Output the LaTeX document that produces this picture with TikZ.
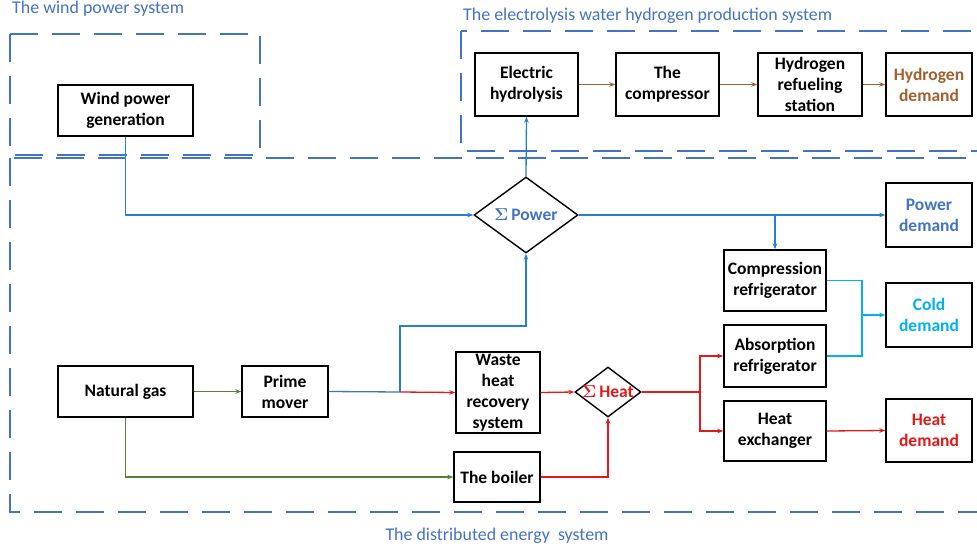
\documentclass[tikz,border=0pt]{standalone}
\usepackage{fontspec}
\setmainfont{Carlito}
\usetikzlibrary{shapes.geometric,arrows.meta}
\definecolor{dashblue}{RGB}{68,114,196}
\definecolor{pwblue}{RGB}{40,128,205}
\definecolor{dkblue}{RGB}{68,114,196}
\definecolor{ltblue}{RGB}{0,176,240}
\definecolor{grn}{RGB}{84,130,53}
\definecolor{rd}{RGB}{225,25,25}
\definecolor{brn}{RGB}{165,95,45}
\newcommand{\boxfont}{\fontsize{17.5}{21}\selectfont\bfseries}
\tikzset{
  box/.style={draw, line width=1.4pt, align=center, font=\boxfont, inner sep=0pt},
  sumbox/.style={draw, line width=1.4pt, shape=diamond, inner sep=0pt, font=\boxfont},
  dbox/.style={draw=dashblue, line width=1.6pt, dash pattern=on 28pt off 14pt},
  flow/.style={line width=1.3pt, -{Stealth[length=6pt,width=4.5pt]}},
  line/.style={line width=1.3pt},
  ttl/.style={text=dashblue, inner sep=0pt, font=\fontsize{17.9}{22}\selectfont}
}
\begin{document}
\begin{tikzpicture}[x=1pt,y=-1pt]
\clip (0,0) rectangle (977,551);
\fill[white] (0,0) rectangle (977,551);
% system frames
\draw[dbox] (10,34) rectangle (260,155);
\draw[dbox] (461,31) rectangle (995,151);
\draw[dbox] (10,158) rectangle (995,512);
\node[ttl, anchor=west] (t1) at (12,9) {The wind power system};
\node[ttl, anchor=west] (t2) at (463,16) {The electrolysis water hydrogen production system};
\node[ttl] (t3) at (497,536) {The distributed energy\ \ system};
% nodes
\node[box, minimum width=135, minimum height=51] (wind) at (125.5,110.5) {Wind power\\generation};
\node[box, minimum width=103, minimum height=63] (eh) at (526.5,84.5) {Electric\\hydrolysis};
\node[box, minimum width=103, minimum height=63] (cmp) at (667.5,84.5) {The\\compressor};
\node[box, minimum width=104, minimum height=63] (hrs) at (810,84.5) {Hydrogen\\refueling\\station};
\node[box, minimum width=86, minimum height=63, text=brn] (hdem) at (929,84.5) {Hydrogen\\demand};
\node[sumbox, minimum width=104, minimum height=76, text=dkblue] (psum) at (526,215) {\makebox[0pt]{\boldmath$\Sigma$\,Power}};
\node[box, minimum width=86, minimum height=64, text=dkblue] (pdem) at (929,215) {Power\\demand};
\node[box, minimum width=102, minimum height=61] (comp) at (775,280.5) {Compression\\refrigerator};
\node[box, minimum width=86, minimum height=64, text=ltblue] (cdem) at (929,315) {Cold\\demand};
\node[box, minimum width=102, minimum height=62] (abs) at (775,356) {Absorption\\refrigerator};
\node[box, minimum width=102, minimum height=60] (hex) at (775,431) {Heat\\exchanger};
\node[box, minimum width=86, minimum height=63, text=rd] (hdm) at (929,430.5) {Heat\\demand};
\node[box, minimum width=135, minimum height=51] (ng) at (125.5,391.5) {Natural gas};
\node[box, minimum width=86, minimum height=51] (pm) at (285,391.5) {Prime\\mover};
\node[box, minimum width=84, minimum height=81] (whr) at (498,392.5) {Waste\\heat\\recovery\\system};
\node[sumbox, minimum width=66, minimum height=50, text=rd] (hsum) at (608,392) {\makebox[0pt]{\boldmath$\Sigma$\,Heat}};
\node[box, minimum width=86, minimum height=50] (boil) at (497,477) {The boiler};
% junctions
\coordinate (j1) at (400,392);
\coordinate (j2) at (400,326);
\coordinate (j3) at (700,392);
\coordinate (j4) at (862,315);
% power flows
\draw[flow, pwblue] (wind.south) |- (psum.west);
\draw[flow, pwblue] (psum.north) -- (eh.south);
\draw[flow, pwblue] (psum.east) -- (pdem.west);
\draw[flow, pwblue] (psum.east) -| (comp.north);
\draw[line, dkblue] (pm.east) -- (j1);
\draw[flow, pwblue] (j1) -- (j2) -| (psum.south);
% hydrogen
\draw[flow, brn] (eh) -- (cmp);
\draw[flow, brn] (cmp) -- (hrs);
\draw[flow, brn] (hrs) -- (hdem);
% gas
\draw[flow, grn] (ng.east) -- (pm.west);
\draw[flow, grn] (ng.south) |- (boil.west);
% heat
\draw[flow, rd] (j1) -- (whr.west);
\draw[flow, rd] (whr.east) -- (hsum.west);
\draw[flow, rd] (boil.east) -| (hsum.south);
\draw[line, rd] (hsum.east) -- (j3);
\draw[flow, rd] (j3) |- (abs.west);
\draw[flow, rd] (j3) |- (hex.west);
\draw[flow, rd] (hex.east) -- (hdm.west);
% cold
\draw[line, ltblue] (comp.east) -| (j4);
\draw[line, ltblue] (abs.east) -| (j4);
\draw[flow, ltblue] (j4) -- (cdem.west);
\end{tikzpicture}
\end{document}
